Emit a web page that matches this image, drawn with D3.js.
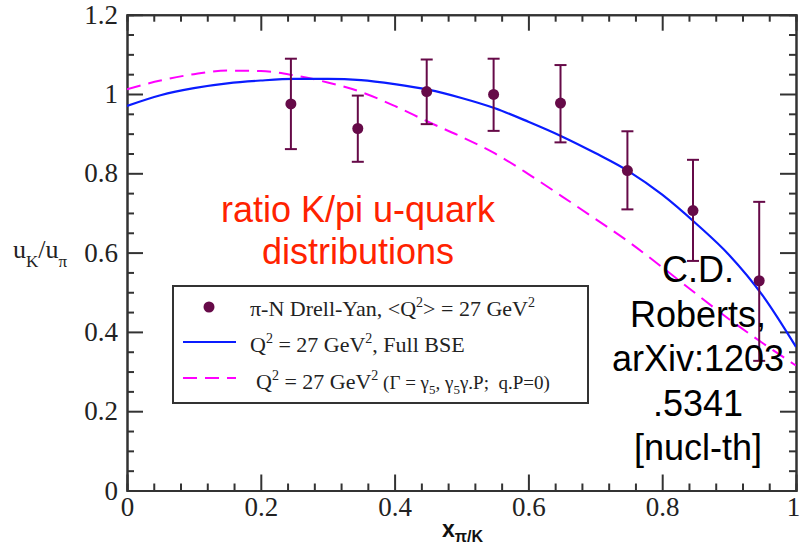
<!DOCTYPE html>
<html>
<head>
<meta charset="utf-8">
<script src="https://cdn.jsdelivr.net/npm/d3@7"></script>
<style>
  html, body { margin: 0; padding: 0; background: #fff; }
  svg { display: block; }
</style>
</head>
<body>
<svg id="chart" width="800" height="554"></svg>
<script>
// ---- data ----
const dataX    = [0.245, 0.345, 0.448, 0.548, 0.648, 0.748, 0.846, 0.945];
const dataY    = [0.975, 0.913, 1.006, 0.999, 0.977, 0.807, 0.706, 0.529];
const dataLow  = [0.861, 0.829, 0.924, 0.907, 0.878, 0.709, 0.579, 0.327];
const dataHigh = [1.089, 0.996, 1.087, 1.089, 1.073, 0.906, 0.834, 0.728];

const curveX       = [0, 0.05, 0.1, 0.15, 0.2, 0.25, 0.3, 0.35, 0.4, 0.45, 0.5, 0.55, 0.6, 0.65, 0.7, 0.75, 0.8, 0.85, 0.9, 0.95, 1.0];
const fullBSE      = [0.970, 0.997, 1.015, 1.027, 1.034, 1.038, 1.038, 1.035, 1.025, 1.011, 0.990, 0.964, 0.930, 0.893, 0.851, 0.805, 0.746, 0.674, 0.594, 0.492, 0.362];
const simplifiedBSE= [1.012, 1.034, 1.050, 1.059, 1.058, 1.047, 1.029, 1.005, 0.970, 0.930, 0.892, 0.850, 0.798, 0.742, 0.685, 0.627, 0.563, 0.497, 0.432, 0.372, 0.315];

const xTickValues = [0, 0.2, 0.4, 0.6, 0.8, 1];
const xTickLabels = ["0", "0.2", "0.4", "0.6", "0.8", "1"];
const yTickValues = [0, 0.2, 0.4, 0.6, 0.8, 1, 1.2];
const yTickLabels = ["0", "0.2", "0.4", "0.6", "0.8", "1", "1.2"];
const xMinorStep = 0.04;
const yMinorStep = 0.05;

// ---- layout ----
const L = 127, R = 796, T = 14.7, B = 490.5;
const svg = d3.select("#chart");
const x = d3.scaleLinear().domain([0, 1]).range([L, R]);
const y = d3.scaleLinear().domain([0, 1.2]).range([B, T]);

const axisColor = "#333";
const serif = "'Liberation Serif', 'Times New Roman', serif";
const sans = "'Liberation Sans', Arial, sans-serif";

const xMinor = d3.range(0, 1.0001, xMinorStep).filter(v => Math.abs(v / 0.2 - Math.round(v / 0.2)) > 1e-6);
const yMinor = d3.range(0, 1.2001, yMinorStep).filter(v => Math.abs(v / 0.2 - Math.round(v / 0.2)) > 1e-6);

function styleAxis(g) {
  g.attr("font-family", serif).attr("font-size", 27);
  g.select(".domain").attr("stroke", axisColor).attr("stroke-width", 2);
  g.selectAll(".tick line").attr("stroke", axisColor).attr("stroke-width", 2);
  g.selectAll(".tick text").attr("fill", "#222").style("font-family", serif).style("font-size", "27px");
}

// minor ticks
svg.append("g").attr("transform", `translate(0,${B})`)
  .call(d3.axisBottom(x).tickValues(xMinor).tickSize(-7).tickFormat("")).call(styleAxis);
svg.append("g").attr("transform", `translate(0,${T})`)
  .call(d3.axisTop(x).tickValues(xMinor).tickSize(-7).tickFormat("")).call(styleAxis);
svg.append("g").attr("transform", `translate(${L},0)`)
  .call(d3.axisLeft(y).tickValues(yMinor).tickSize(-7).tickFormat("")).call(styleAxis);
svg.append("g").attr("transform", `translate(${R},0)`)
  .call(d3.axisRight(y).tickValues(yMinor).tickSize(-7).tickFormat("")).call(styleAxis);

// major ticks
const xAxisG = svg.append("g").attr("transform", `translate(0,${B})`)
  .call(d3.axisBottom(x).tickValues(xTickValues).tickSize(-16).tickSizeOuter(0).tickPadding(6)
    .tickFormat((d, i) => xTickLabels[i])).call(styleAxis);
xAxisG.selectAll(".tick text").filter(d => d === 1).attr("dx", -3);
svg.append("g").attr("transform", `translate(0,${T})`)
  .call(d3.axisTop(x).tickValues(xTickValues).tickSize(-16).tickSizeOuter(0).tickFormat("")).call(styleAxis);
svg.append("g").attr("transform", `translate(${L},0)`)
  .call(d3.axisLeft(y).tickValues(yTickValues).tickSize(-16).tickSizeOuter(0).tickPadding(9)
    .tickFormat((d, i) => yTickLabels[i])).call(styleAxis);
svg.append("g").attr("transform", `translate(${R},0)`)
  .call(d3.axisRight(y).tickValues(yTickValues).tickSize(-16).tickSizeOuter(0).tickFormat("")).call(styleAxis);

// clip for curves
svg.append("clipPath").attr("id", "plotclip").append("rect")
  .attr("x", L).attr("y", T).attr("width", R - L).attr("height", B - T);

const line = d3.line().x(d => x(d[0])).y(d => y(d[1])).curve(d3.curveMonotoneX);

svg.append("path")
  .datum(curveX.map((v, i) => [v, simplifiedBSE[i]]))
  .attr("d", line).attr("fill", "none").attr("stroke", "#ff00ff")
  .attr("stroke-width", 2).attr("stroke-dasharray", "14,8").attr("clip-path", "url(#plotclip)");

svg.append("path")
  .datum(curveX.map((v, i) => [v, fullBSE[i]]))
  .attr("d", line).attr("fill", "none").attr("stroke", "#0a1cff")
  .attr("stroke-width", 2.2).attr("clip-path", "url(#plotclip)");

// data points with error bars
const dataColor = "#660a48";
const pts = dataX.map((v, i) => ({ x: v, y: dataY[i], lo: dataLow[i], hi: dataHigh[i] }));
const eb = svg.append("g").attr("stroke", dataColor).attr("stroke-width", 2);
eb.selectAll("line.v").data(pts).join("line").attr("class", "v")
  .attr("x1", d => x(d.x)).attr("x2", d => x(d.x)).attr("y1", d => y(d.lo)).attr("y2", d => y(d.hi));
eb.selectAll("line.t").data(pts).join("line").attr("class", "t")
  .attr("x1", d => x(d.x) - 6).attr("x2", d => x(d.x) + 6).attr("y1", d => y(d.hi)).attr("y2", d => y(d.hi));
eb.selectAll("line.b").data(pts).join("line").attr("class", "b")
  .attr("x1", d => x(d.x) - 6).attr("x2", d => x(d.x) + 6).attr("y1", d => y(d.lo)).attr("y2", d => y(d.lo));
svg.append("g").selectAll("circle").data(pts).join("circle")
  .attr("cx", d => x(d.x)).attr("cy", d => y(d.y)).attr("r", 5.5).attr("fill", dataColor);

// axis titles
const yl = svg.append("text").attr("x", 13).attr("y", 258)
  .style("font-family", serif).style("font-size", "26px").attr("fill", "#222");
yl.append("tspan").text("u");
yl.append("tspan").attr("dy", 9).style("font-size", "17px").text("K");
yl.append("tspan").attr("dy", -9).text("/u");
yl.append("tspan").attr("dy", 9).style("font-size", "17px").text("π");

const xl = svg.append("text").attr("x", 442).attr("y", 537)
  .style("font-family", sans).style("font-weight", "bold").style("font-size", "23px").attr("fill", "#111");
xl.append("tspan").text("x");
xl.append("tspan").attr("dy", 5).style("font-size", "16px").text("π/K");

// legend
const lg = svg.append("g");
lg.append("rect").attr("x", 173).attr("y", 286).attr("width", 415).attr("height", 117)
  .attr("fill", "#fff").attr("stroke", axisColor).attr("stroke-width", 2);
lg.append("circle").attr("cx", 209).attr("cy", 307).attr("r", 5.5).attr("fill", dataColor);
lg.append("line").attr("x1", 183).attr("x2", 236).attr("y1", 342).attr("y2", 342)
  .attr("stroke", "#0a1cff").attr("stroke-width", 2.2);
lg.append("line").attr("x1", 183).attr("x2", 236).attr("y1", 378).attr("y2", 378)
  .attr("stroke", "#ff00ff").attr("stroke-width", 2).attr("stroke-dasharray", "14,8");

function legText(xp, yp) {
  return lg.append("text").attr("x", xp).attr("y", yp)
    .style("font-family", serif).style("font-size", "22px").attr("fill", "#222");
}

let t1 = legText(250, 316);
t1.append("tspan").text("π-N Drell-Yan, <Q");
t1.append("tspan").attr("dy", -9).style("font-size", "14px").text("2");
t1.append("tspan").attr("dy", 9).text("> = 27 GeV");
t1.append("tspan").attr("dy", -9).style("font-size", "14px").text("2");

let t2 = legText(250, 352);
t2.append("tspan").text("Q");
t2.append("tspan").attr("dy", -9).style("font-size", "14px").text("2");
t2.append("tspan").attr("dy", 9).text(" = 27 GeV");
t2.append("tspan").attr("dy", -9).style("font-size", "14px").text("2");
t2.append("tspan").attr("dy", 9).text(", Full BSE");

let t3 = legText(256, 389);
t3.append("tspan").text("Q");
t3.append("tspan").attr("dy", -9).style("font-size", "14px").text("2");
t3.append("tspan").attr("dy", 9).text(" = 27 GeV");
t3.append("tspan").attr("dy", -9).style("font-size", "14px").text("2");
t3.append("tspan").attr("dy", 9).style("font-size", "19px").text("\u00a0(Γ = γ");
t3.append("tspan").attr("dy", 5).style("font-size", "13px").text("5");
t3.append("tspan").attr("dy", -5).style("font-size", "19px").text(", γ");
t3.append("tspan").attr("dy", 5).style("font-size", "13px").text("5");
t3.append("tspan").attr("dy", -5).style("font-size", "19px").text("γ.P;\u00a0 q.P=0)");

// annotations
const red = svg.append("text").attr("text-anchor", "middle")
  .style("font-family", sans).style("font-size", "36px").attr("fill", "#ff2200");
red.append("tspan").attr("x", 358).attr("y", 222).text("ratio K/pi u-quark");
red.append("tspan").attr("x", 358).attr("y", 264).text("distributions");

const noteLines = ["C.D.", "Roberts,", "arXiv:1203", ".5341", "[nucl-th]"];
const note = svg.append("text").attr("text-anchor", "middle")
  .style("font-family", sans).style("font-size", "36px").attr("fill", "#000");
noteLines.forEach((s, i) => note.append("tspan").attr("x", 698).attr("y", 282 + i * 44.5).text(s));
</script>
</body>
</html>
